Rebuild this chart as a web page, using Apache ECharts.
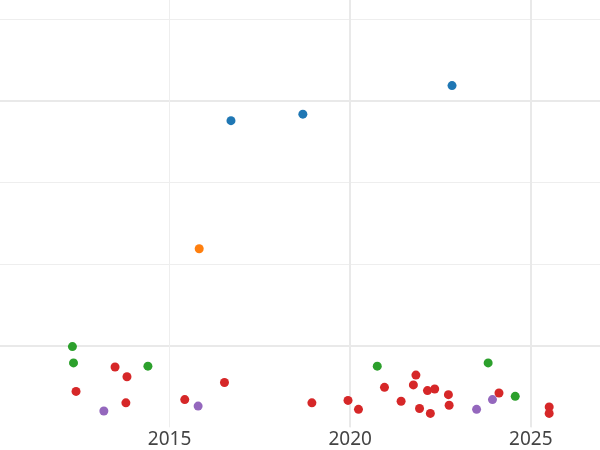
<!DOCTYPE html>
<html>
<head>
<meta charset="utf-8">
<script src="https://cdn.jsdelivr.net/npm/echarts@6/dist/echarts.min.js"></script>
<style>html,body{margin:0;padding:0;background:#fff}#c{width:600px;height:450px}</style>
</head>
<body>
<div id="c"></div>
<script>
// x = year (decimal), y = value in grid units (log10 scale)
const xTicks = [2015, 2020, 2025];
const majorX = [2020, 2025];
const majorY = [9, 12];

const blueX = [2016.70, 2018.69, 2022.82];
const blueY = [11.76, 11.84, 12.19];

const orangeX = [2015.82];
const orangeY = [10.19];

const greenX = [2012.31, 2012.34, 2014.40, 2020.75, 2023.82, 2024.57];
const greenY = [8.99, 8.79, 8.75, 8.75, 8.79, 8.38];

const redX = [2012.41, 2013.49, 2013.82, 2013.79, 2015.42, 2016.52, 2018.94, 2019.94, 2020.23,
              2020.95, 2021.41, 2021.82, 2021.75, 2021.92, 2022.14, 2022.34, 2022.22, 2022.72,
              2022.74, 2024.12, 2025.51, 2025.51];
const redY = [8.44, 8.74, 8.62, 8.30, 8.34, 8.55, 8.30, 8.33, 8.22,
              8.49, 8.32, 8.64, 8.52, 8.23, 8.45, 8.47, 8.17, 8.40,
              8.27, 8.42, 8.25, 8.17];

const purpleX = [2013.18, 2015.79, 2023.50, 2023.94];
const purpleY = [8.20, 8.26, 8.22, 8.34];

function pts(xs, ys) { return xs.map((x, i) => [x, ys[i]]); }

const thin = { color: '#eeeeee', width: 1 };
const thick = { color: '#e9e9e9', width: 2 };

const chart = echarts.init(document.getElementById('c'));
chart.setOption({
  animation: false,
  backgroundColor: '#ffffff',
  grid: { left: -11, right: -3, top: -62, bottom: 22.7, outerBoundsMode: 'none', containLabel: false },
  xAxis: [{
    type: 'value', min: 2010, max: 2027, interval: 5,
    axisLine: { show: false }, axisTick: { show: false },
    axisLabel: { show: true, showMinLabel: false, showMaxLabel: false, margin: 3,
      color: '#444444', fontSize: 19, fontFamily: 'Noto Sans',
      formatter: v => (xTicks.indexOf(v) >= 0 ? String(v) : '') },
    splitLine: { show: true, showMinLine: false, showMaxLine: false, lineStyle: thin }
  }, {
    type: 'value', min: 2010, max: 2027, position: 'bottom',
    axisLine: { show: false }, axisTick: { show: false, customValues: majorX },
    axisLabel: { show: false },
    splitLine: { show: true, lineStyle: thick }
  }],
  yAxis: [{
    type: 'value', min: 8, max: 14, interval: 1,
    axisLine: { show: false }, axisTick: { show: false }, axisLabel: { show: false },
    splitLine: { show: true, showMinLine: false, showMaxLine: false, lineStyle: thin }
  }, {
    type: 'value', min: 8, max: 14, position: 'left',
    axisLine: { show: false }, axisTick: { show: false, customValues: majorY }, axisLabel: { show: false },
    splitLine: { show: true, lineStyle: thick }
  }],
  series: [
    { type: 'scatter', data: pts(blueX, blueY), itemStyle: { color: '#1f77b4' } },
    { type: 'scatter', data: pts(orangeX, orangeY), itemStyle: { color: '#ff7f0e' } },
    { type: 'scatter', data: pts(greenX, greenY), itemStyle: { color: '#2ca02c' } },
    { type: 'scatter', data: pts(redX, redY), itemStyle: { color: '#d62728' } },
    { type: 'scatter', data: pts(purpleX, purpleY), itemStyle: { color: '#9467bd' } }
  ].map(s => { s.itemStyle.opacity = 1; return Object.assign(s, { symbolSize: 9, xAxisIndex: 0, yAxisIndex: 0 }); })
});
</script>
</body>
</html>
